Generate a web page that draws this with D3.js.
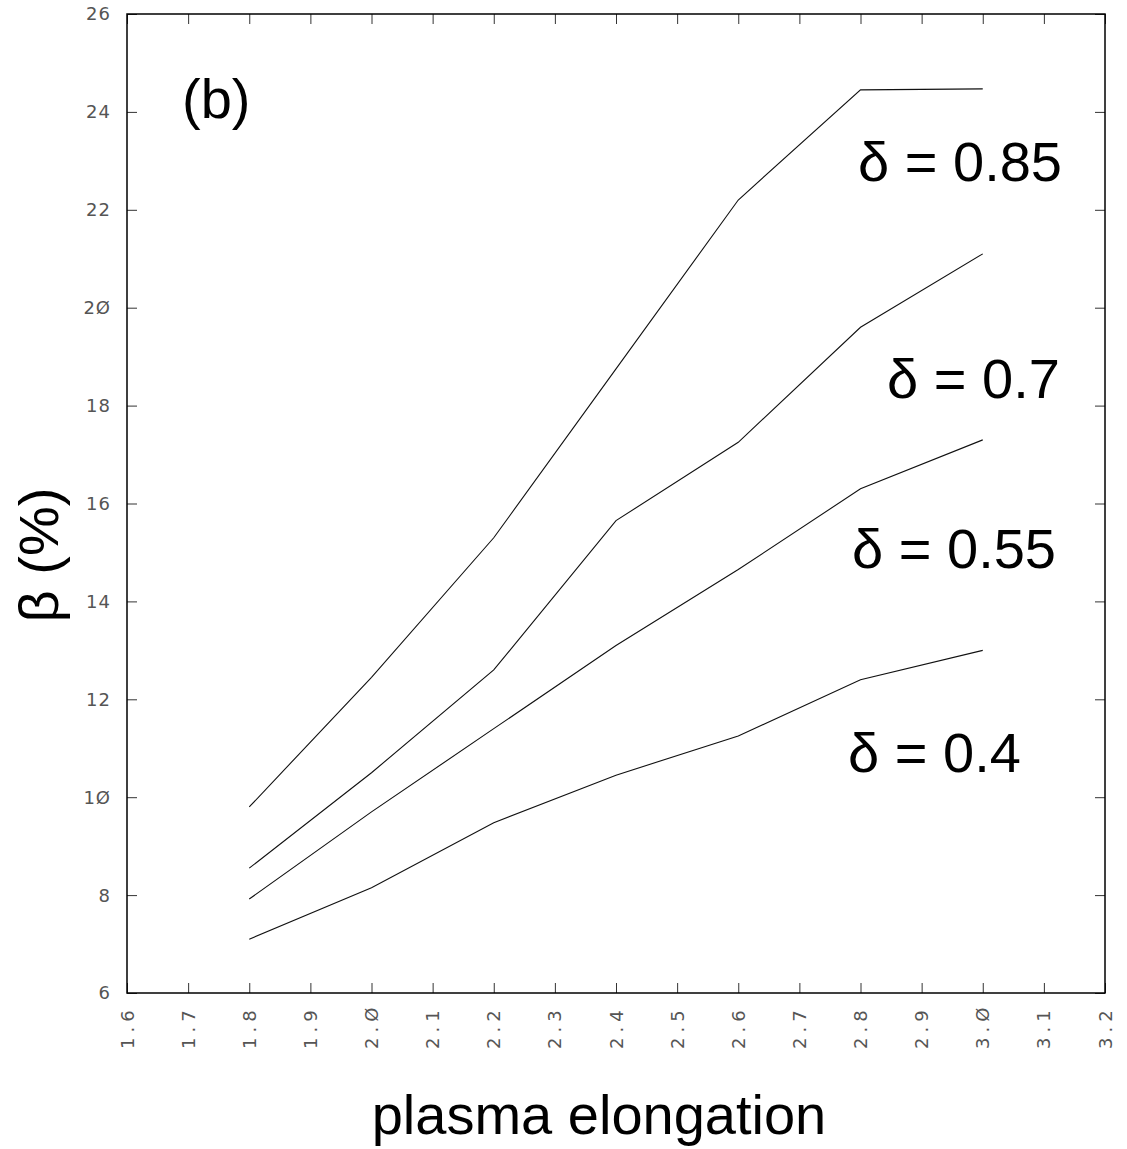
<!DOCTYPE html>
<html>
<head>
<meta charset="utf-8">
<script src="https://cdn.jsdelivr.net/npm/d3@7"></script>
<style>
  body { margin: 0; background: #fff; }
  svg { display: block; }
</style>
</head>
<body>
<svg id="chart"></svg>
<script>
// elongation values along x
const elongation = [1.8, 2.0, 2.2, 2.4, 2.6, 2.8, 3.0];
// beta (%) for each triangularity
const beta085 = [9.8, 12.45, 15.3, 18.75, 22.2, 24.45, 24.47];
const beta070 = [8.55, 10.5, 12.6, 15.65, 17.25, 19.6, 21.1];
const beta055 = [7.92, 9.7, 11.4, 13.1, 14.65, 16.3, 17.3];
const beta040 = [7.1, 8.15, 9.48, 10.45, 11.25, 12.4, 13.0];
const seriesNames = ["δ = 0.85", "δ = 0.7", "δ = 0.55", "δ = 0.4"];
const xTicks = [1.6, 1.7, 1.8, 1.9, 2.0, 2.1, 2.2, 2.3, 2.4, 2.5, 2.6, 2.7, 2.8, 2.9, 3.0, 3.1, 3.2];
const yTicks = [6, 8, 10, 12, 14, 16, 18, 20, 22, 24, 26];

const width = 1127, height = 1149;
const margin = { top: 14, right: 22, bottom: 156, left: 127 };
const svg = d3.select("#chart").attr("width", width).attr("height", height);

const x = d3.scaleLinear().domain([1.6, 3.2]).range([margin.left, width - margin.right]);
const y = d3.scaleLinear().domain([6, 26]).range([height - margin.bottom, margin.top]);

// zero with a slash, like the old plotting package
const fmt = v => v.toFixed(v >= 6 && Number.isInteger(v) ? 0 : 1).replace(/0/g, "Ø");

// tick marks on all four sides, pointing in
const tickStyle = g => {
  g.select(".domain").remove();
  g.selectAll(".tick line").attr("stroke", "#333").attr("stroke-width", 1);
  g.selectAll(".tick text").remove();
};
svg.append("g").attr("transform", `translate(0,${y(6)})`)
  .call(d3.axisBottom(x).tickValues(xTicks).tickSizeInner(-10).tickSizeOuter(0)).call(tickStyle);
svg.append("g").attr("transform", `translate(0,${y(26)})`)
  .call(d3.axisTop(x).tickValues(xTicks).tickSizeInner(-10).tickSizeOuter(0)).call(tickStyle);
svg.append("g").attr("transform", `translate(${x(1.6)},0)`)
  .call(d3.axisLeft(y).tickValues(yTicks).tickSizeInner(-10).tickSizeOuter(0)).call(tickStyle);
svg.append("g").attr("transform", `translate(${x(3.2)},0)`)
  .call(d3.axisRight(y).tickValues(yTicks).tickSizeInner(-10).tickSizeOuter(0)).call(tickStyle);

// frame
svg.append("rect")
  .attr("x", x(1.6)).attr("y", y(26))
  .attr("width", x(3.2) - x(1.6)).attr("height", y(6) - y(26))
  .attr("fill", "none").attr("stroke", "#000").attr("stroke-width", 1.5);

// y tick labels
svg.append("g").selectAll("text")
  .data(yTicks)
  .join("text")
  .attr("x", x(1.6) - 16)
  .attr("y", d => y(d))
  .attr("dy", "0.36em")
  .attr("text-anchor", "end")
  .style("font-family", "'DejaVu Sans', sans-serif")
  .style("font-size", "18px")
  .style("letter-spacing", "1px")
  .attr("fill", "#555")
  .text(d => fmt(d));

// x tick labels, rotated
svg.append("g").selectAll("text")
  .data(xTicks)
  .join("text")
  .attr("transform", d => `translate(${x(d)},${y(6) + 56}) rotate(-90)`)
  .attr("dominant-baseline", "central")
  .attr("text-anchor", "start")
  .style("font-family", "'DejaVu Sans', sans-serif")
  .style("font-size", "18px")
  .style("letter-spacing", "5px")
  .attr("fill", "#555")
  .text(d => fmt(d));

// curves
const allSeries = [beta085, beta070, beta055, beta040];
const line = d3.line().x((d, i) => x(elongation[i])).y(d => y(d));
svg.append("g").selectAll("path")
  .data(allSeries)
  .join("path")
  .attr("d", d => line(d))
  .attr("fill", "none")
  .attr("stroke", "#111")
  .attr("stroke-width", 1.1);

// curve labels
const labelSpots = [[858, 181], [887, 398], [852, 568], [848, 772]];
svg.append("g").selectAll("text")
  .data(seriesNames)
  .join("text")
  .attr("x", (d, i) => labelSpots[i][0])
  .attr("y", (d, i) => labelSpots[i][1])
  .style("font-family", "Arial, 'Liberation Sans', sans-serif")
  .style("font-size", "56px")
  .text(d => d);

svg.append("text")
  .attr("x", 182).attr("y", 118)
  .style("font-family", "Arial, 'Liberation Sans', sans-serif")
  .style("font-size", "56px")
  .text("(b)");

// axis titles
svg.append("text")
  .attr("x", 599).attr("y", 1134)
  .attr("text-anchor", "middle")
  .style("font-family", "Arial, 'Liberation Sans', sans-serif")
  .style("font-size", "56px")
  .text("plasma elongation");

svg.append("text")
  .attr("transform", "translate(58,555) rotate(-90)")
  .attr("text-anchor", "middle")
  .style("font-family", "Arial, 'Liberation Sans', sans-serif")
  .style("font-size", "56px")
  .text("β (%)");
</script>
</body>
</html>
